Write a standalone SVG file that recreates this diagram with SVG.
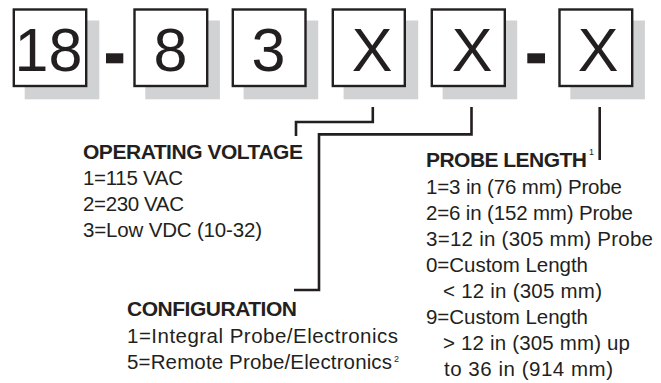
<svg xmlns="http://www.w3.org/2000/svg" width="661" height="383" viewBox="0 0 661 383">
<style>
.sh{fill:#d1d2d4;stroke:none}
.bx{fill:#ffffff;stroke:#231f20;stroke-width:2.4}
.big{font-family:"Liberation Sans",Arial,sans-serif;font-size:61px;fill:#231f20;text-anchor:middle}
.dash{fill:#231f20}
.hd{font-family:"Liberation Sans Narrow","Liberation Sans",Arial,sans-serif;font-size:21px;font-weight:bold;fill:#231f20}
.tx{font-family:"Liberation Sans Narrow","Liberation Sans",Arial,sans-serif;font-size:20.5px;fill:#231f20}
.sup{font-family:"Liberation Sans",Arial,sans-serif;font-size:9px;fill:#231f20}
.cn{fill:none;stroke:#231f20;stroke-width:2.6;stroke-linejoin:miter;stroke-linecap:butt}
</style>
<rect width="661" height="383" fill="#ffffff"/>
<g id="box-18">
<rect class="sh" x="24.7" y="20.5" width="74.6" height="78.8"/>
<rect class="bx" x="13.8" y="9.5" width="72.4" height="76.5"/>
<text class="big" x="48.5" y="71">18</text>
</g>
<g id="dash-1"><rect class="dash" x="106" y="53.3" width="17.3" height="10"/></g>
<g id="box-8">
<rect class="sh" x="145.3" y="20.5" width="74.6" height="78.8"/>
<rect class="bx" x="134.5" y="9.5" width="72.7" height="76.5"/>
<text class="big" x="170.5" y="71">8</text>
</g>
<g id="box-3">
<rect class="sh" x="243.6" y="20.5" width="74.6" height="78.8"/>
<rect class="bx" x="232.8" y="9.5" width="72.7" height="76.5"/>
<text class="big" x="268.5" y="71">3</text>
</g>
<g id="box-x1">
<rect class="sh" x="343.6" y="20.5" width="74.6" height="78.8"/>
<rect class="bx" x="332.8" y="9.5" width="72" height="76.5"/>
<text class="big" x="372" y="71">X</text>
</g>
<g id="box-x2">
<rect class="sh" x="442.6" y="20.5" width="74.6" height="78.8"/>
<rect class="bx" x="431.8" y="9.5" width="73" height="76.5"/>
<text class="big" x="472" y="71">X</text>
</g>
<g id="dash-2"><rect class="dash" x="527.3" y="53.3" width="17.7" height="10"/></g>
<g id="box-x3">
<rect class="sh" x="570.3" y="20.5" width="74.6" height="78.8"/>
<rect class="bx" x="559.5" y="9.5" width="72.7" height="76.5"/>
<text class="big" x="598" y="71">X</text>
</g>
<g id="connectors">
<polyline class="cn" points="372.8,107 372.8,122 296,122 296,136"/>
<polyline class="cn" points="471.5,107 471.5,134.4 319,134.4 319,290 294,290"/>
<polyline class="cn" points="599.7,107 599.7,160"/>
</g>
<g id="operating-voltage">
<text class="hd" x="83" y="159" textLength="220" lengthAdjust="spacing">OPERATING VOLTAGE</text>
<text class="tx" x="83" y="185" textLength="100" lengthAdjust="spacing">1=115 VAC</text>
<text class="tx" x="83" y="211" textLength="101" lengthAdjust="spacing">2=230 VAC</text>
<text class="tx" x="83" y="237" textLength="179" lengthAdjust="spacing">3=Low VDC (10-32)</text>
</g>
<g id="probe-length">
<text class="hd" x="426" y="167" textLength="161" lengthAdjust="spacing">PROBE LENGTH</text>
<text class="sup" x="589" y="155">1</text>
<text class="tx" x="426" y="194" textLength="196" lengthAdjust="spacing">1=3 in (76 mm) Probe</text>
<text class="tx" x="426" y="220" textLength="207" lengthAdjust="spacing">2=6 in (152 mm) Probe</text>
<text class="tx" x="426" y="246" textLength="227" lengthAdjust="spacing">3=12 in (305 mm) Probe</text>
<text class="tx" x="426" y="272" textLength="162" lengthAdjust="spacing">0=Custom Length</text>
<text class="tx" x="443" y="298" textLength="159" lengthAdjust="spacing">&lt; 12 in (305 mm)</text>
<text class="tx" x="426" y="324" textLength="162" lengthAdjust="spacing">9=Custom Length</text>
<text class="tx" x="443" y="350" textLength="187" lengthAdjust="spacing">&gt; 12 in (305 mm) up</text>
<text class="tx" x="444" y="376" textLength="169" lengthAdjust="spacing">to 36 in (914 mm)</text>
</g>
<g id="configuration">
<text class="hd" x="127" y="316" textLength="170" lengthAdjust="spacing">CONFIGURATION</text>
<text class="tx" x="127" y="343" textLength="271" lengthAdjust="spacing">1=Integral Probe/Electronics</text>
<text class="tx" x="127" y="369" textLength="265" lengthAdjust="spacing">5=Remote Probe/Electronics</text>
<text class="sup" x="394" y="362">2</text>
</g>
</svg>
